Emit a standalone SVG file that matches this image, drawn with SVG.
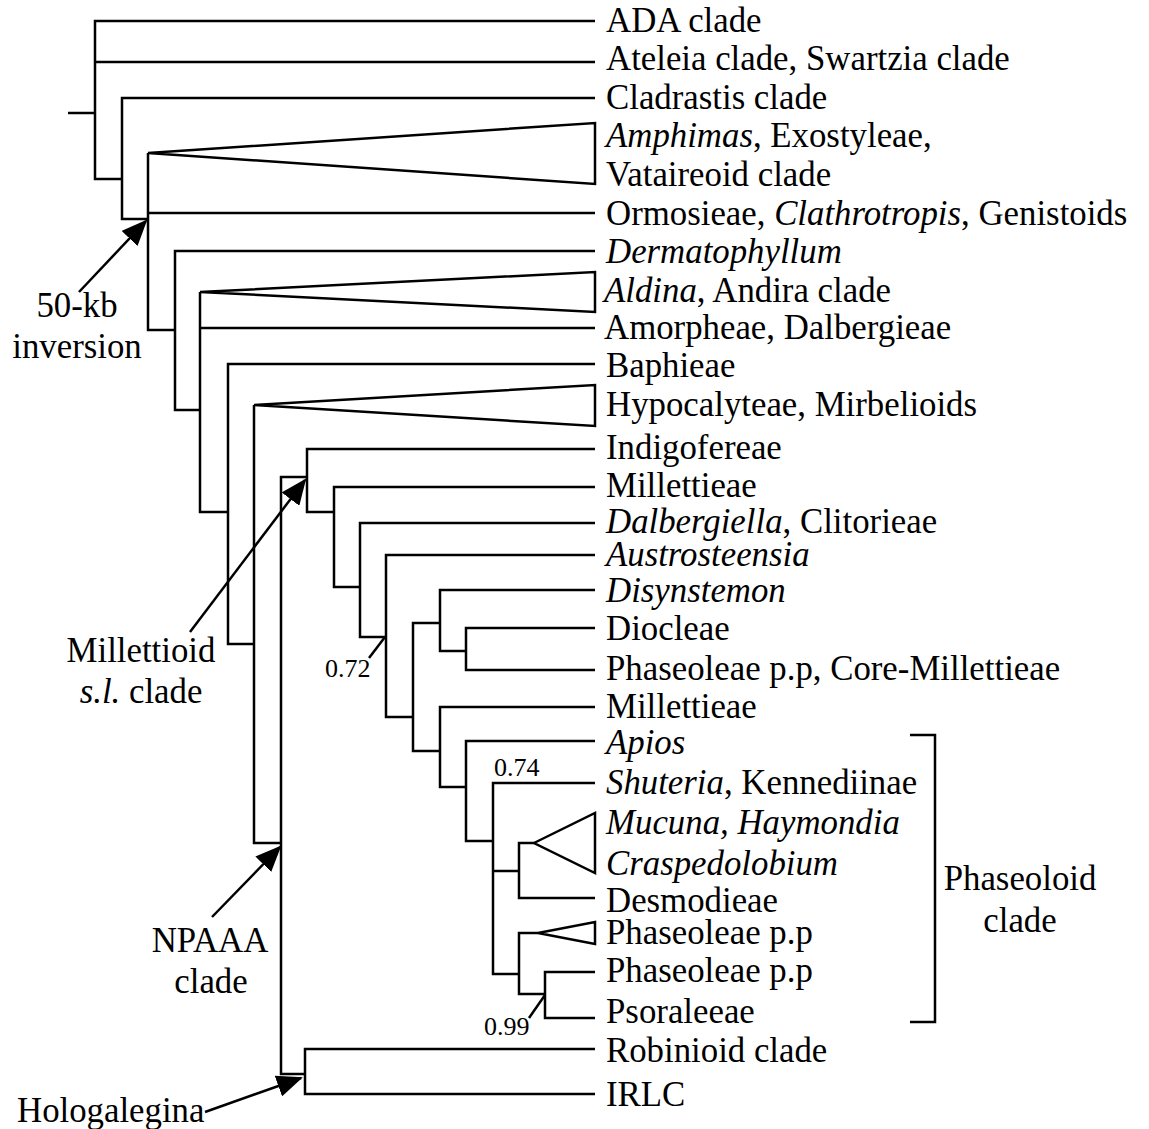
<svg xmlns="http://www.w3.org/2000/svg" width="1149" height="1129" viewBox="0 0 1149 1129">
<style>
.t{font-family:"Liberation Serif","Times New Roman",serif;font-size:34.8px;fill:#000}
.i{font-style:italic}
.n{font-family:"Liberation Serif","Times New Roman",serif;font-size:26px;fill:#000}
.ln{fill:none;stroke:#000;stroke-width:2.5;stroke-linejoin:miter}
.tri{fill:#fff;stroke:#000;stroke-width:2.5;stroke-linejoin:miter}
.ar{fill:none;stroke:#000;stroke-width:2.5}
</style>
<defs>
<marker id="ah" markerUnits="userSpaceOnUse" markerWidth="26" markerHeight="22" refX="24" refY="11" orient="auto">
<path d="M0,0 L26,11 L0,22 z" fill="#000"/>
</marker>
</defs>
<rect width="1149" height="1129" fill="#fff"/>
<g id="connectors">
<path class="ln" d="M68 113 H95"/>
<path class="ln" d="M595 21 H95 V179 H122 M95 62 H595"/>
<path class="ln" d="M595 98 H122 V219 H148"/>
<path class="ln" d="M148 153 V330 H175 M148 213 H595"/>
<path class="ln" d="M595 251 H175 V410 H200"/>
<path class="ln" d="M200 292 V512 H228 M200 328 H595"/>
<path class="ln" d="M595 364 H228 V644 H254"/>
<path class="ln" d="M254 405 V843 H281"/>
<path class="ln" d="M307 477 H281 V1074 H305"/>
<path class="ln" d="M595 449 H307 V512 H334"/>
<path class="ln" d="M595 487 H334 V587 H360"/>
<path class="ln" d="M595 523 H360 V637 H386"/>
<path class="ln" d="M595 555 H386 V717 H413"/>
<path class="ln" d="M440 623 H413 V751 H440"/>
<path class="ln" d="M595 590 H440 V651 H466"/>
<path class="ln" d="M595 628 H466 V670 H595"/>
<path class="ln" d="M595 707 H440 V787 H466"/>
<path class="ln" d="M595 741 H466 V841 H493"/>
<path class="ln" d="M595 783 H493 V974 H519 M493 871 H519"/>
<path class="ln" d="M534 843 H519 V898 H595"/>
<path class="ln" d="M538 933 H519 V994 H545"/>
<path class="ln" d="M595 972 H545 V1018 H595"/>
<path class="ln" d="M595 1049 H305 V1094 H595"/>
<path class="ln" d="M385 637 L369 658"/>
<path class="ln" d="M545 995 L529 1018"/>
<path class="ln" d="M910 735 H935 V1022 H910"/>
<line class="ar" x1="79" y1="292" x2="146" y2="221" marker-end="url(#ah)"/>
<line class="ar" x1="190" y1="632" x2="305" y2="480" marker-end="url(#ah)"/>
<line class="ar" x1="212" y1="917" x2="280" y2="847" marker-end="url(#ah)"/>
<line class="ar" x1="205" y1="1112" x2="301" y2="1078" marker-end="url(#ah)"/>
</g>
<g id="ada"><text class="t" x="606" y="32">ADA clade</text></g>
<g id="ateleia"><text class="t" x="606" y="70">Ateleia clade, Swartzia clade</text></g>
<g id="cladrastis"><text class="t" x="606" y="109">Cladrastis clade</text></g>
<g id="amphimas"><polygon class="tri" points="148,153 595,123 595,184"/><text class="t" x="606" y="147"><tspan class="i">Amphimas</tspan>, Exostyleae,</text><text class="t" x="606" y="186">Vataireoid clade</text></g>
<g id="ormosieae"><text class="t" x="606" y="225">Ormosieae, <tspan class="i">Clathrotropis</tspan>, Genistoids</text></g>
<g id="dermatophyllum"><text class="t i" x="606" y="263">Dermatophyllum</text></g>
<g id="aldina"><polygon class="tri" points="200,292 595,272 595,312"/><text class="t" x="604" y="302"><tspan class="i">Aldina</tspan>, Andira clade</text></g>
<g id="amorpheae"><text class="t" x="604" y="339">Amorpheae, Dalbergieae</text></g>
<g id="baphieae"><text class="t" x="606" y="377">Baphieae</text></g>
<g id="hypocalyteae"><polygon class="tri" points="254,405 595,385 595,426"/><text class="t" x="606" y="416">Hypocalyteae, Mirbelioids</text></g>
<g id="indigofereae"><text class="t" x="606" y="459">Indigofereae</text></g>
<g id="millettieae1"><text class="t" x="606" y="497">Millettieae</text></g>
<g id="dalbergiella"><text class="t" x="606" y="533"><tspan class="i">Dalbergiella</tspan>, Clitorieae</text></g>
<g id="austrosteensia"><text class="t i" x="606" y="566">Austrosteensia</text></g>
<g id="disynstemon"><text class="t i" x="606" y="602">Disynstemon</text></g>
<g id="diocleae"><text class="t" x="606" y="640">Diocleae</text></g>
<g id="phaseoleae-core"><text class="t" x="606" y="680">Phaseoleae p.p, Core-Millettieae</text></g>
<g id="millettieae2"><text class="t" x="606" y="718">Millettieae</text></g>
<g id="apios"><text class="t i" x="606" y="754">Apios</text></g>
<g id="shuteria"><text class="t" x="606" y="794"><tspan class="i">Shuteria</tspan>, Kennediinae</text></g>
<g id="mucuna"><polygon class="tri" points="534,843 595,813 595,873"/><text class="t i" x="606" y="834">Mucuna, Haymondia</text><text class="t i" x="606" y="875">Craspedolobium</text></g>
<g id="desmodieae"><text class="t" x="606" y="912">Desmodieae</text></g>
<g id="phaseoleae-tri"><polygon class="tri" points="538,933 595,922 595,944"/><text class="t" x="606" y="944">Phaseoleae p.p</text></g>
<g id="phaseoleae2"><text class="t" x="606" y="982">Phaseoleae p.p</text></g>
<g id="psoraleeae"><text class="t" x="606" y="1023">Psoraleeae</text></g>
<g id="robinioid"><text class="t" x="606" y="1062">Robinioid clade</text></g>
<g id="irlc"><text class="t" x="606" y="1106">IRLC</text></g>
<g id="phaseoloid-label"><text class="t" x="1020" y="890" text-anchor="middle">Phaseoloid</text><text class="t" x="1020" y="932" text-anchor="middle">clade</text></g>
<g id="inversion-label"><text class="t" x="77" y="317" text-anchor="middle">50-kb</text><text class="t" x="77" y="358" text-anchor="middle">inversion</text></g>
<g id="millettioid-label"><text class="t" x="141" y="662" text-anchor="middle">Millettioid</text><text class="t" x="141" y="703" text-anchor="middle"><tspan class="i">s.l.</tspan> clade</text></g>
<g id="npaaa-label"><text class="t" x="210" y="952" text-anchor="middle">NPAAA</text><text class="t" x="211" y="993" text-anchor="middle">clade</text></g>
<g id="hologalegina-label"><text class="t" x="17" y="1122">Hologalegina</text></g>
<g id="support-values"><text class="n" x="325" y="677">0.72</text><text class="n" x="494" y="776">0.74</text><text class="n" x="484" y="1035">0.99</text></g>
</svg>
